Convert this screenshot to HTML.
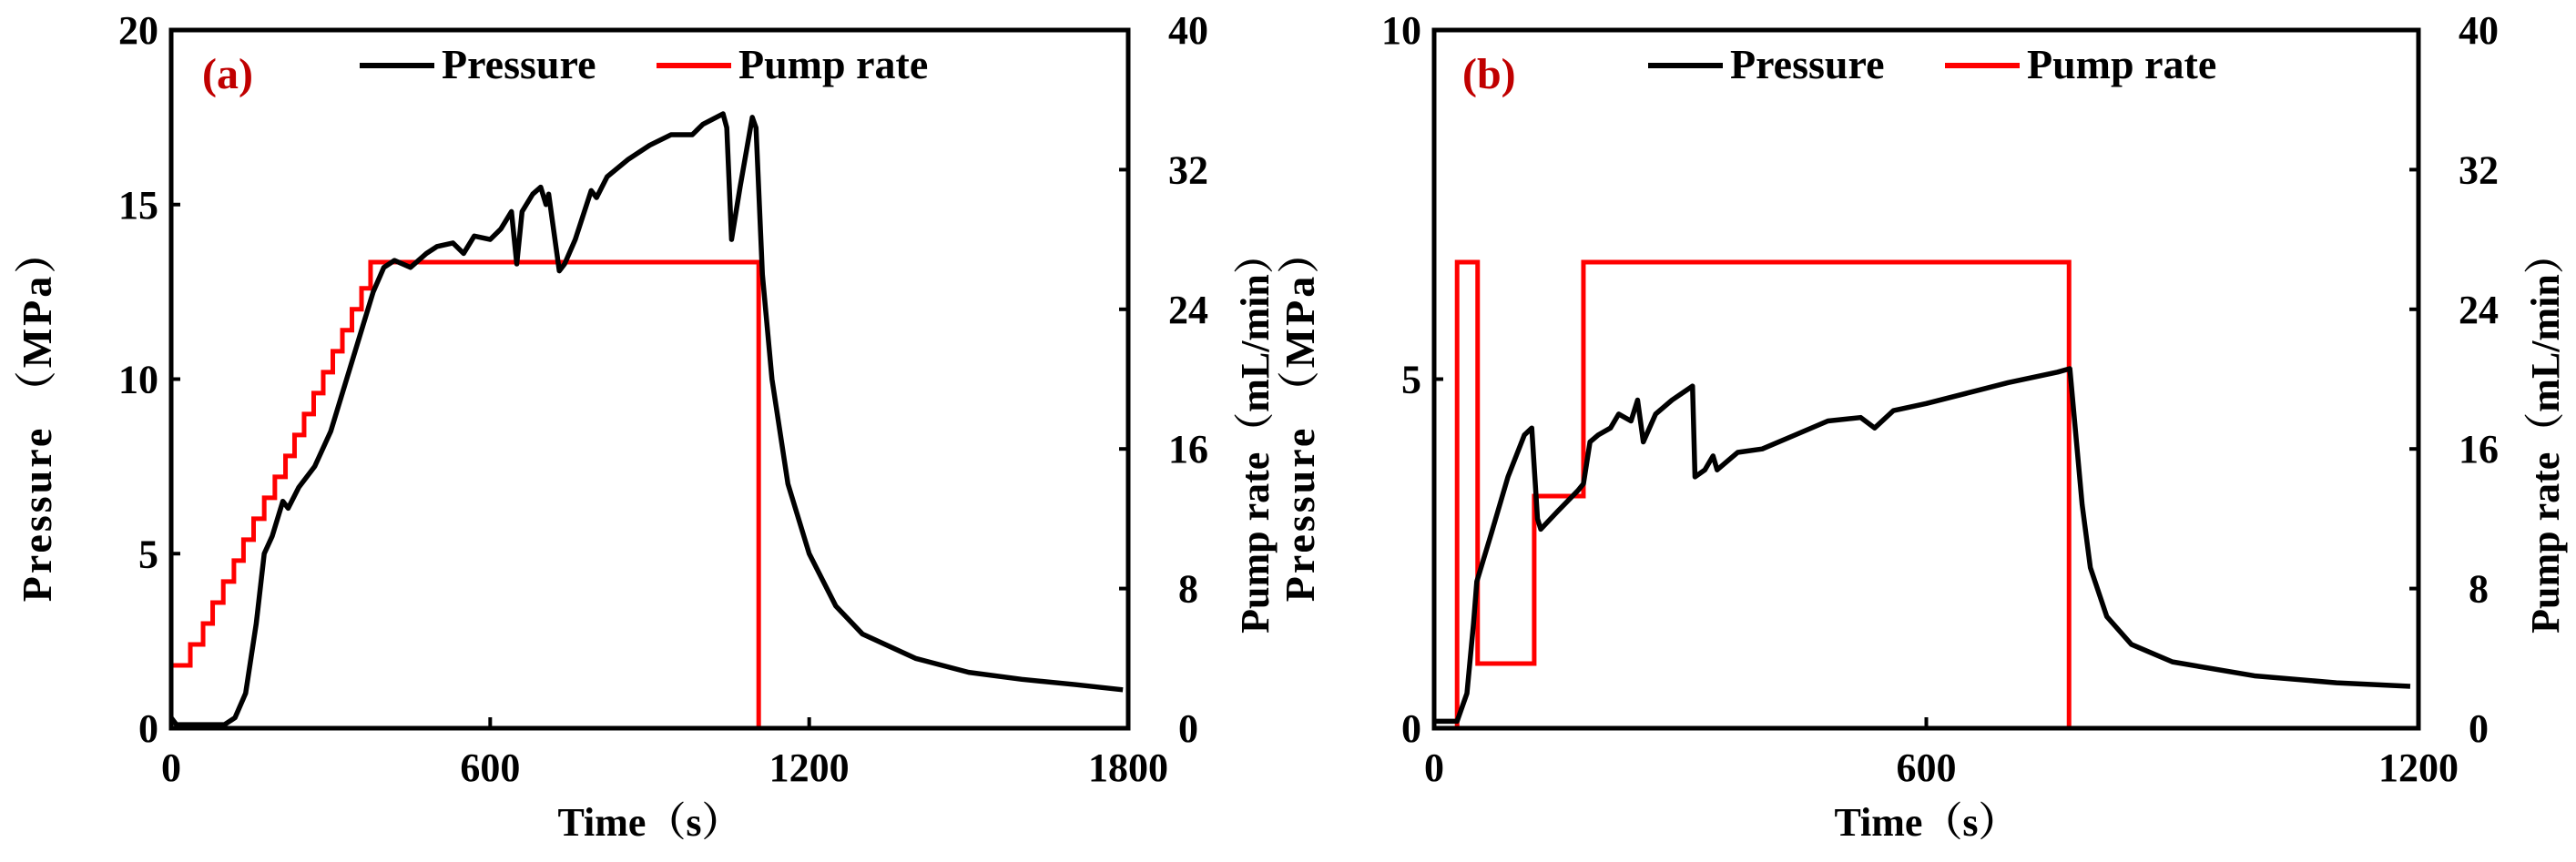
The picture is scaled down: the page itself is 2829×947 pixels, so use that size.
<!DOCTYPE html>
<html><head><meta charset="utf-8"><style>
html,body{margin:0;padding:0;background:#fff;}
svg{display:block;}
text{font-family:"Liberation Serif","Noto Serif CJK SC",serif;font-weight:bold;fill:#000;}
</style></head><body>
<svg id="chart" width="2829" height="947" viewBox="0 0 2829 947"></svg>
<script>
// ---- Panel (a) data ----
const aTime = [0,10,100,120,140,160,175,190,210,220,240,270,300,320,340,360,380,400,420,450,480,500,530,550,570,600,620,640,650,660,680,695,705,710,730,740,760,790,800,820,860,900,940,980,1000,1038,1045,1054,1070,1093,1100,1112,1130,1160,1200,1250,1300,1400,1500,1600,1700,1790];
const aPressure = [0.3,0.1,0.1,0.3,1,3,5,5.5,6.5,6.3,6.9,7.5,8.5,9.5,10.5,11.5,12.5,13.2,13.4,13.2,13.6,13.8,13.9,13.6,14.1,14.0,14.3,14.8,13.3,14.8,15.3,15.5,15.0,15.3,13.1,13.3,14.0,15.4,15.2,15.8,16.3,16.7,17.0,17.0,17.3,17.6,17.2,14.0,15.5,17.5,17.2,13.0,10,7,5,3.5,2.7,2.0,1.6,1.4,1.25,1.1];
const aPumpTime = [0,36,60,78,98,118,136,155,175,195,215,232,250,268,286,304,322,340,358,375,388,1105,1800];
const aPumpRate = [3.6,4.8,6.0,7.2,8.4,9.6,10.8,12.0,13.2,14.4,15.6,16.8,18.0,19.2,20.4,21.6,22.8,24.0,25.2,26.7,26.7,0,0];
// ---- Panel (b) data ----
const bTime = [0,28,40,48,52,70,90,110,119,126,130,150,175,182,190,200,215,225,240,248,255,270,290,315,318,330,340,345,370,400,440,480,520,537,560,600,650,700,760,775,780,790,800,820,850,900,1000,1100,1190];
const bPressure = [0.1,0.1,0.5,1.5,2.1,2.8,3.6,4.2,4.3,3.0,2.85,3.1,3.4,3.5,4.1,4.2,4.3,4.5,4.4,4.7,4.1,4.5,4.7,4.9,3.6,3.7,3.9,3.7,3.95,4.0,4.2,4.4,4.45,4.3,4.55,4.65,4.8,4.95,5.1,5.15,4.5,3.2,2.3,1.6,1.2,0.95,0.75,0.65,0.6];
const bPumpTime = [0,28,53,122,182,774,1091,1190];
const bPumpRate = [0,26.7,3.7,13.3,26.7,0,null,0];

const svg = document.getElementById('chart');
const NS = 'http://www.w3.org/2000/svg';
function mk(tag, attrs, parent){const e=document.createElementNS(NS,tag);for(const k in attrs)e.setAttribute(k,attrs[k]);(parent||svg).appendChild(e);return e;}

function panel(cfg){
  const g = mk('g',{});
  
  
  const {x0,x1,y0,y1} = cfg;
  const sx = t => x0 + (t/cfg.xMax)*(x1-x0);
  const syL = v => y1 - (v/cfg.yLMax)*(y1-y0);
  const syR = v => y1 - (v/40)*(y1-y0);
  let d='', started=false, prevV=null;
  for(let i=0;i<cfg.pt.length;i++){
    const t=cfg.pt[i], v=cfg.pr[i];
    if(v===null){started=false;prevV=null;continue;}
    if(!started){d+=`M${sx(t)},${syR(v)}`;started=true;}
    else{d+=`L${sx(t)},${syR(prevV)}L${sx(t)},${syR(v)}`;}
    prevV=v;
  }
  const pump = mk('path',{d:d,fill:'none',stroke:'#ff0000','stroke-width':5,'stroke-linejoin':'miter'},g);
  
  
  let pd = cfg.t.map((t,i)=>(i?'L':'M')+sx(t)+','+syL(cfg.p[i])).join('');
  const pres = mk('path',{d:pd,fill:'none',stroke:'#000','stroke-width':5.5,'stroke-linejoin':'round'},g);
  
  
  const fr = mk('rect',{x:x0,y:y0,width:x1-x0,height:y1-y0,fill:'none',stroke:'#000','stroke-width':5},g);
  
  
  cfg.yLTicks.forEach(v=>{
    if(v>0&&v<cfg.yLMax) mk('line',{x1:x0,x2:x0+10,y1:syL(v),y2:syL(v),stroke:'#000','stroke-width':4},g);
    const tx = mk('text',{x:x0-14,y:syL(v)+15,'text-anchor':'end','font-size':44},g);
    tx.textContent=v;
    
    
  });
  [0,8,16,24,32,40].forEach(v=>{
    if(v>0&&v<40) mk('line',{x1:x1,x2:x1-10,y1:syR(v),y2:syR(v),stroke:'#000','stroke-width':4},g);
    const tx = mk('text',{x:x1+66,y:syR(v)+15,'text-anchor':'middle','font-size':44},g);
    tx.textContent=v;
    
    
  });
  cfg.xTicks.forEach(v=>{
    if(v>0&&v<cfg.xMax) mk('line',{x1:sx(v),x2:sx(v),y1:y1,y2:y1-12,stroke:'#000','stroke-width':4},g);
    const tx = mk('text',{x:sx(v),y:y1+58,'text-anchor':'middle','font-size':44},g);
    tx.textContent=v;
    
    
  });
  const xt = mk('text',{x:(x0+x1)/2,y:918,'text-anchor':'middle','font-size':44},g);
  xt.textContent='Time（s）';
  
  
  const ly = (y0+y1)/2+40;
  const yl = mk('text',{x:0,y:0,'text-anchor':'middle','font-size':46,'letter-spacing':3,transform:`translate(${cfg.ltx},${ly}) rotate(-90)`},g);
  yl.textContent='Pressure （MPa）';
  
  
  const yr = mk('text',{x:0,y:0,'text-anchor':'middle','font-size':44,transform:`translate(${x1+154},${ly+20}) rotate(-90)`},g);
  yr.textContent='Pump rate（mL/min）';
  
  
  const lb = mk('text',{x:cfg.lbx,y:97,'font-size':48,style:'fill:#c00000'},g);
  lb.textContent=cfg.label;
  
  
  const lg = mk('g',{},g);
  
  
  const L = cfg.lgx;
  mk('line',{x1:L,x2:L+82,y1:72,y2:72,stroke:'#000','stroke-width':6},lg);
  const t1 = mk('text',{x:L+90,y:86,'font-size':46},lg); t1.textContent='Pressure';
  
  
  mk('line',{x1:L+326,x2:L+408,y1:72,y2:72,stroke:'#ff0000','stroke-width':6},lg);
  const t2 = mk('text',{x:L+416,y:86,'font-size':46},lg); t2.textContent='Pump rate';
  
  
}

panel({name:'panel-a',x0:188,x1:1239,y0:33,y1:800,xMax:1800,yLMax:20,yLTicks:[0,5,10,15,20],xTicks:[0,600,1200,1800],
  t:aTime,p:aPressure,pt:aPumpTime,pr:aPumpRate,label:'(a)',lbx:222,lgx:395,ltx:56});
panel({name:'panel-b',x0:1575,x1:2656,y0:33,y1:800,xMax:1200,yLMax:10,yLTicks:[0,5,10],xTicks:[0,600,1200],
  t:bTime,p:bPressure,pt:bPumpTime,pr:bPumpRate,label:'(b)',lbx:1606,lgx:1810,ltx:1443});
</script>
</body></html>
